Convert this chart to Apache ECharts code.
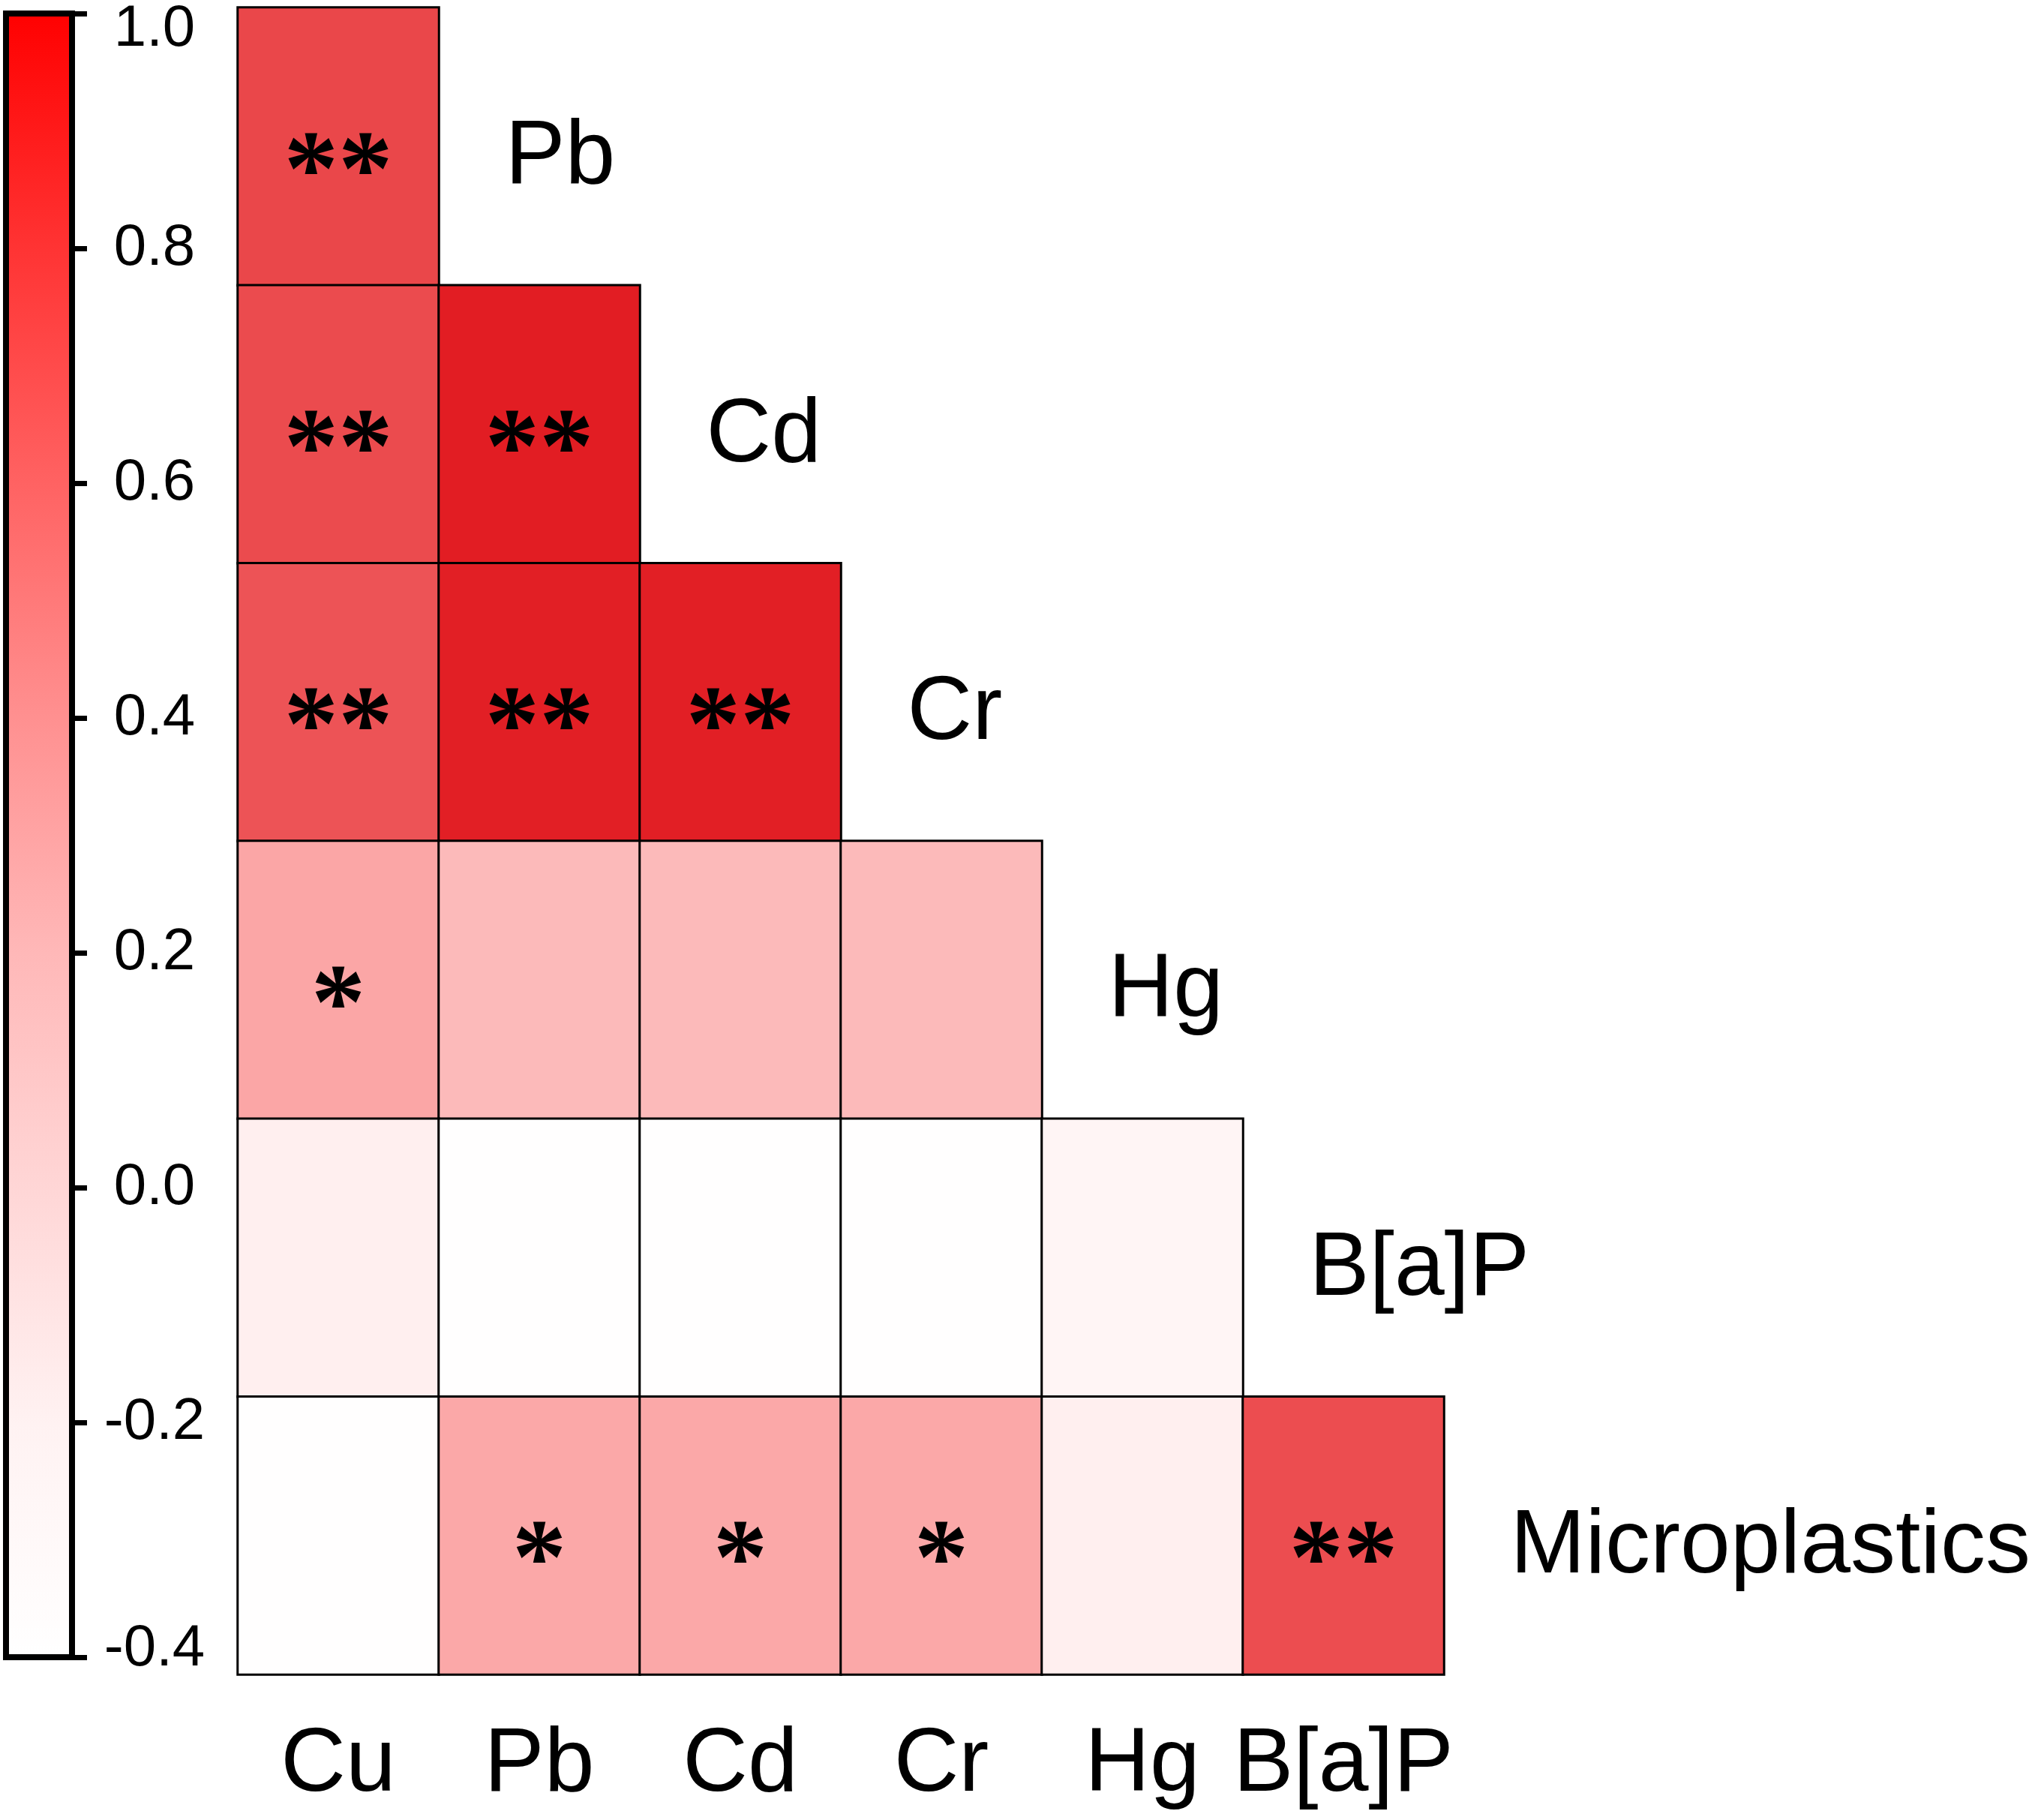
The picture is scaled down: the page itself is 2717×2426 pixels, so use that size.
<!DOCTYPE html>
<html>
<head>
<meta charset="utf-8">
<script src="https://cdn.jsdelivr.net/npm/echarts@6/dist/echarts.min.js"></script>
<style>
html,body{margin:0;padding:0;background:#fff;}
#chart{width:2717px;height:2426px;}
</style>
</head>
<body>
<div id="chart"></div>
<script>
// ---- data ----
const xCats = ['Cu', 'Pb', 'Cd', 'Cr', 'Hg', 'B[a]P'];
const yCats = ['Pb', 'Cd', 'Cr', 'Hg', 'B[a]P', 'Microplastics'];
// lower-triangle correlation values, one array per row
const rowPb  = [0.74];
const rowCd  = [0.72, 0.95];
const rowCr  = [0.68, 0.94, 0.94];
const rowHg  = [0.35, 0.26, 0.26, 0.26];
const rowBaP = [-0.08, -0.30, -0.30, -0.30, -0.14];
const rowMP  = [-0.30, 0.34, 0.34, 0.34, -0.08, 0.71];
// significance marks
const sigPb  = ['**'];
const sigCd  = ['**', '**'];
const sigCr  = ['**', '**', '**'];
const sigHg  = ['*', '', '', ''];
const sigBaP = ['', '', '', '', ''];
const sigMP  = ['', '*', '*', '*', '', '**'];
// colour bar
const cbMin = -0.4, cbMax = 1.0, cbStep = 0.2;
const cbValues = [1.0, 0.8, 0.6, 0.4, 0.2, 0.0, -0.2, -0.4];
const cbColors = ['#FF0000', '#FF3333', '#FF6262', '#FF9090', '#FFB8B8', '#FFD6D6', '#FFF2F2', '#FFFFFF'];
// cell colour ramp (evenly spaced from cbMin to cbMax)
const cellRamp = ['#FFFFFF', '#FFFCFC', '#FFE6E6', '#FDC8C8', '#FA9A9A', '#F06466', '#E83A3E', '#E0141A'];

const rows = [rowPb, rowCd, rowCr, rowHg, rowBaP, rowMP];
const sigs = [sigPb, sigCd, sigCr, sigHg, sigBaP, sigMP];
const heatData = [];
rows.forEach((r, ri) => r.forEach((v, ci) => heatData.push([ci, ri, v, sigs[ri][ci]])));
const rowLabelData = yCats.map((name, ri) => [ri, ri, name]);

const chart = echarts.init(document.getElementById('chart'), null, {renderer: 'canvas'});
const FONT = 'Liberation Sans, Arial, sans-serif';

const gradStops = cbValues.map((v, i) => ({offset: (cbMax - v) / (cbMax - cbMin), color: cbColors[i]}));

chart.setOption({
  animation: false,
  backgroundColor: '#ffffff',
  grid: [
    {left: 317, top: 10, width: 1608, height: 2222, containLabel: false},
    {left: 8, top: 14, width: 88, height: 2195, show: true,
     backgroundColor: new echarts.graphic.LinearGradient(0, 0, 0, 1, gradStops),
     borderColor: '#000', borderWidth: 8}
  ],
  xAxis: [
    {type: 'category', gridIndex: 0, data: xCats,
     axisLine: {show: false}, axisTick: {show: false}, splitLine: {show: false},
     axisLabel: {interval: 0, fontSize: 120, color: '#000', fontFamily: FONT, margin: 62}},
    {type: 'category', gridIndex: 1, show: false, data: ['c']}
  ],
  yAxis: [
    {type: 'category', gridIndex: 0, data: yCats, inverse: true, show: false},
    {type: 'value', gridIndex: 1, position: 'right', min: cbMin, max: cbMax, interval: cbStep,
     axisLine: {show: true, onZero: false, lineStyle: {color: '#000', width: 8}},
     splitLine: {show: false},
     axisTick: {show: true, inside: false, length: 20, lineStyle: {color: '#000', width: 7}},
     axisLabel: {
       fontSize: 78, color: '#000', fontFamily: FONT, align: 'center', margin: 110,
       formatter: function (v) {
         const s = (Math.abs(v) < 1e-9 ? 0 : v).toFixed(1);
         if (Math.abs(v - cbMax) < 1e-6) return '{mx|' + s + '}';
         if (Math.abs(v - cbMin) < 1e-6) return '{mn|' + s + '}';
         return s;
       },
       rich: {
         mx: {fontSize: 78, color: '#000', fontFamily: FONT, padding: [42, 0, 0, 0]},
         mn: {fontSize: 78, color: '#000', fontFamily: FONT, padding: [0, 0, 22, 0]}
       }
     }}
  ],
  visualMap: [{
    type: 'continuous', show: false, seriesIndex: 0, dimension: 2,
    min: cbMin, max: cbMax, inRange: {color: cellRamp}
  }],
  series: [
    {
      type: 'heatmap', xAxisIndex: 0, yAxisIndex: 0, data: heatData,
      itemStyle: {borderColor: '#000', borderWidth: 3},
      label: {
        show: true, fontSize: 145, fontWeight: 'bold',
        fontFamily: 'Liberation Serif, Times New Roman, serif',
        color: '#000', offset: [0, 40],
        formatter: p => p.data[3]
      },
      emphasis: {disabled: true}
    },
    {
      type: 'scatter', xAxisIndex: 0, yAxisIndex: 0, data: rowLabelData,
      symbolSize: 1, itemStyle: {color: 'rgba(0,0,0,0)', opacity: 1},
      label: {
        show: true, position: 'right', distance: 222, fontSize: 120,
        fontFamily: FONT, color: '#000', opacity: 1, offset: [0, 16],
        formatter: p => p.data[2]
      },
      emphasis: {disabled: true}, silent: true
    }
  ]
});
</script>
</body>
</html>
